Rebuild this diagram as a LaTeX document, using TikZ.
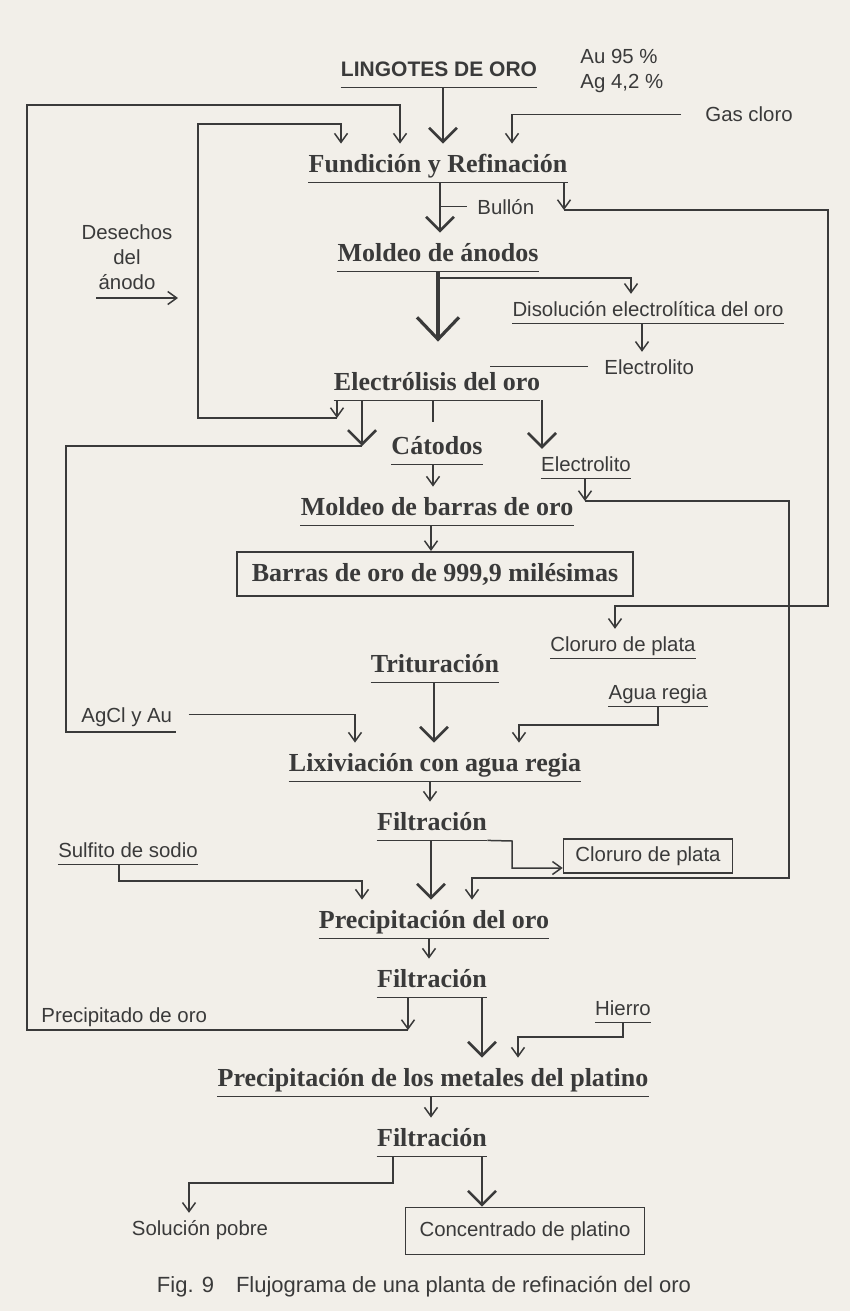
\documentclass[tikz,border=0pt]{standalone}
\usepackage{fontspec}
\setmainfont{Liberation Serif}
\newfontfamily\labfont{Liberation Sans}
\usetikzlibrary{arrows.meta}
\definecolor{ink}{HTML}{3A3A3A}
\definecolor{paper}{HTML}{F2EFE9}

\begin{document}
\begin{tikzpicture}[x=0.5pt, y=-0.5pt, every node/.style={text=ink},
    line/.style={draw=ink, line width=0.75pt},
    sarr/.style={line, -{Straight Barb[length=4.5pt,width=6.5pt]}},
    barr/.style={draw=ink, line width=1.3pt, -{Straight Barb[length=7pt,width=14pt]}},
    hugearr/.style={barr, line width=1.6pt, -{Straight Barb[length=11pt,width=21pt]}, shorten >=10pt},
    proc/.style={font=\fontsize{13}{15}\selectfont\bfseries, inner xsep=0pt, inner ysep=5pt,
                 text height=9pt, text depth=0pt, anchor=base,
                 append after command={(\tikzlastnode.south west) edge[draw=ink, line width=0.8pt] (\tikzlastnode.south east)}},
    lab/.style={font=\labfont\fontsize{10.2}{12.5}\selectfont, inner xsep=0pt, inner ysep=3.5pt,
                text height=7.4pt, text depth=0pt, anchor=base},
    ulab/.style={lab, append after command={(\tikzlastnode.south west) edge[draw=ink, line width=0.75pt] (\tikzlastnode.south east)}},
    note/.style={font=\labfont\fontsize{10.2}{12.5}\selectfont, inner sep=0pt},
    box/.style={font=\labfont\fontsize{10.2}{12.5}\selectfont, draw=ink, line width=0.8pt, inner sep=0pt}]
  \fill[paper] (0,0) rectangle (850,1311);
  \useasboundingbox (0,0) rectangle (850,1311);

  % etapas
  \node[proc, font=\labfont\bfseries\fontsize{10.5}{12}\selectfont] (lingotes) at (439,77) {LINGOTES DE ORO};
  \node[note, anchor=north west, align=left] (ley) at (580,49) {Au 95 \%\\Ag 4,2 \%};
  \node[lab, anchor=base west] (gas) at (705,122) {Gas cloro};
  \node[proc] (fundicion) at (438,172) {Fundición y Refinación};
  \node[lab, anchor=base west] (bullon) at (477,214) {Bullón};
  \node[note, align=center] (desechos) at (127,257) {Desechos\\del\\ánodo};
  \node[proc] (moldeo) at (438,261) {Moldeo de ánodos};
  \node[ulab] (disolucion) at (648,316) {Disolución electrolítica del oro};
  \node[lab, anchor=base west] (electrolito) at (604,374) {Electrolito};
  \node[proc] (electrolisis) at (437,390) {Electrólisis del oro};
  \node[proc] (catodos) at (437,454) {Cátodos};
  \node[ulab] (electrolito2) at (586,471) {Electrolito};
  \node[proc] (moldeob) at (437,515) {Moldeo de barras de oro};
  \node[box, font=\fontsize{13}{15}\selectfont\bfseries, line width=1pt,
        minimum width=198pt, minimum height=22pt] (barras) at (435,574) {Barras de oro de 999,9 milésimas};
  \node[ulab] (cloruro) at (623,651) {Cloruro de plata};
  \node[proc] (trituracion) at (435,672) {Trituración};
  \node[ulab] (agua) at (658,699) {Agua regia};
  \node[lab, anchor=base west] (agcl) at (81,722) {AgCl y Au};
  \node[proc] (lixiviacion) at (435,771) {Lixiviación con agua regia};
  \node[proc] (filtra1) at (432,830) {Filtración};
  \node[ulab] (sulfito) at (128,857) {Sulfito de sodio};
  \node[box, minimum width=84.5pt, minimum height=17pt] (cloruro2) at (648,856) {Cloruro de plata};
  \node[proc] (precoro) at (434,928) {Precipitación del oro};
  \node[proc] (filtra2) at (432,987) {Filtración};
  \node[lab, anchor=base west] (precipitado) at (41,1022) {Precipitado de oro};
  \node[ulab] (hierro) at (623,1015) {Hierro};
  \node[proc] (platino) at (433,1086) {Precipitación de los metales del platino};
  \node[proc] (filtra3) at (432,1146) {Filtración};
  \node[lab] (solucion) at (200,1235) {Solución pobre};
  \node[box, minimum width=119.5pt, minimum height=23.5pt] (concentrado) at (525,1231) {Concentrado de platino};
  \node[lab, font=\labfont\fontsize{11}{13}\selectfont] (pie) at (424,1292) {Fig. 9\quad Flujograma de una planta de refinación del oro};

  % fundicion
  \draw[barr] (lingotes.south -| 443,0) -- (fundicion.north -| 443,0);
  \draw[sarr] ([xshift=-12pt]gas.west) -| (fundicion.north -| 512,0);
  \coordinate (precip) at (408,1030);
  \draw[sarr] (filtra2.south -| 408,0) -- (precip);
  \draw[sarr] (precip) -- (27,1030) |- (400,105) -- (fundicion.north -| 400,0);
  \coordinate (anodo) at (337,418);
  \draw[sarr] (electrolisis.south -| 337,0) -- (anodo);
  \draw[sarr] (anodo) -- (198,418) |- (341,124) -- (fundicion.north -| 341,0);
  \coordinate (dsa) at (96,298);
  \draw[sarr] (dsa) -- ++(82,0);
  \draw[barr] (fundicion.south -| 440,0) -- (moldeo.north -| 440,0);
  \draw[line] (bullon.west -| 440,0) -- ([xshift=-5pt]bullon.west);
  \coordinate (escoria) at (564,210);
  \draw[sarr] (fundicion.south -| 564,0) -- (escoria);
  \draw[sarr] (escoria) -- (828,210) |- (615,606) -- (cloruro.north -| 615,0);

  % anodos y electrolisis
  \draw[hugearr] (moldeo.south -| 438,0) -- (electrolisis.north -| 438,0);
  \coordinate (ramal) at (438,278);
  \draw[sarr] (ramal) -| (disolucion.north -| 631,0);
  \draw[sarr] (disolucion.south -| 642,0) -- (electrolito.north -| 642,0);
  \draw[line] ([xshift=-8pt]electrolito.west) -- ++(-98,0);
  \coordinate (catizq) at (362,446);
  \draw[barr] (electrolisis.south -| 362,0) -- (catizq);
  \draw[line] (catizq) -- (66,446) |- (176,732);
  \draw[sarr] ([xshift=8pt]agcl.east) -| (lixiviacion.north -| 355,0);
  \draw[line] (electrolisis.south -| 433,0) -- ++(0,22);
  \draw[barr] (electrolisis.south -| 542,0) -- (electrolito2.north -| 542,0);
  \draw[sarr] (catodos.south -| 433,0) -- (moldeob.north -| 433,0);
  \coordinate (retorno) at (585,501);
  \draw[sarr] (electrolito2.south -| 585,0) -- (retorno);
  \draw[sarr] (retorno) -- (789,501) |- (472,878) -- (precoro.north -| 472,0);
  \draw[sarr] (moldeob.south -| 431,0) -- (barras.north -| 431,0);

  % lixiviacion y filtraciones
  \draw[barr] (trituracion.south -| 434,0) -- (lixiviacion.north -| 434,0);
  \draw[sarr] (agua.south -| 658,0) |- (519,725) -- (lixiviacion.north -| 519,0);
  \draw[sarr] (lixiviacion.south -| 430,0) -- (filtra1.north -| 430,0);
  \draw[barr] (filtra1.south -| 431,0) -- (precoro.north -| 431,0);
  \draw[sarr] (filtra1.south east) -- (512,841) |- ([yshift=-6pt]cloruro2.west);
  \draw[sarr] (sulfito.south -| 119,0) |- (362,881) -- (precoro.north -| 362,0);
  \draw[sarr] (precoro.south -| 429,0) -- (filtra2.north -| 429,0);
  \draw[barr] (filtra2.south -| 482,0) -- (platino.north -| 482,0);
  \draw[sarr] (hierro.south -| 623,0) |- (518,1037) -- (platino.north -| 518,0);
  \draw[sarr] (platino.south -| 431,0) -- (filtra3.north -| 431,0);
  \draw[sarr] (filtra3.south -| 393,0) |- (189,1183) -- (solucion.north -| 189,0);
  \draw[barr] (filtra3.south -| 482,0) -- (concentrado.north -| 482,0);
\end{tikzpicture}
\end{document}
